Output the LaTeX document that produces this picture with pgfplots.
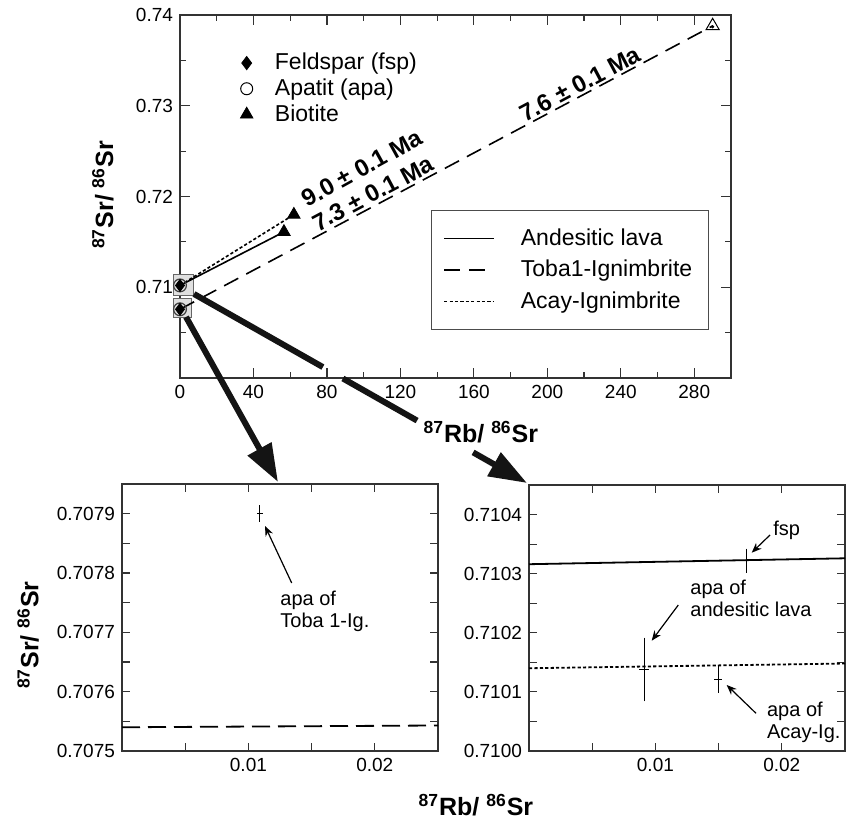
\documentclass[border=0pt]{standalone}
\usepackage{fontspec}
\setmainfont{Liberation Sans}
\usepackage{pgfplots}
\pgfplotsset{compat=1.18}
\usetikzlibrary{arrows.meta}

\pgfplotsset{
  every axis/.append style={
    scale only axis, clip=false,
    axis line style={line width=0.8pt, black!80},
    tick style={line width=0.6pt, black!80},
    tick align=inside,
    /pgf/number format/assume math mode=true,
    scaled ticks=false,
    tick label style={font=\fontsize{9.5}{11}\selectfont, black},
    label style={font=\fontsize{12.5}{14}\selectfont\bfseries},
  },
  errbar/.style={only marks, mark=-, mark size=0pt, black, line width=0.5pt},
}

\begin{document}
\begin{tikzpicture}
\useasboundingbox (0,0) rectangle (425pt,409pt);

% ---------------- top axis ----------------
\begin{axis}[
  at={(90pt,220pt)}, anchor=south west,
  width=275.5pt, height=181.5pt,
  xmin=0, xmax=300, ymin=0.70, ymax=0.74,
  xtick={0,40,80,120,160,200,240,280},
  minor xtick={20,60,100,140,180,220,260},
  ytick={0.71,0.72,0.73,0.74},
  minor ytick={0.705,0.715,0.725,0.735},
  yticklabel style={/pgf/number format/.cd, fixed, fixed zerofill, precision=2},
  major tick length=5pt, minor tick length=3pt,
  xlabel={\textsuperscript{87}Rb/ \textsuperscript{86}Sr},
  xlabel style={at={(axis description cs:0.546,-0.149)}, anchor=center},
  ylabel={\textsuperscript{87}Sr/ \textsuperscript{86}Sr},
  ylabel style={at={(axis description cs:-0.14,0.504)}, anchor=center},
  legend cell align=left,
  legend image code/.code={\draw[#1] (0pt,0pt) -- (25pt,0pt);},
  legend style={at={(axis description cs:0.455,0.463)}, anchor=north west,
    draw=black!70, line width=0.6pt, font=\fontsize{11.5}{13}\selectfont,
    inner xsep=6pt, inner ysep=7pt, row sep=2pt, column sep=11pt,
    nodes={inner xsep=2pt}},
]
% boxes around the low-ratio points
\draw[black!60, fill=black!12, line width=0.5pt] (axis cs:-3.3,0.70912) rectangle (axis cs:7.6,0.71143);
\draw[black!60, fill=black!12, line width=0.5pt] (axis cs:-3.3,0.70669) rectangle (axis cs:6.5,0.70879);

\addplot[black, line width=0.8pt] coordinates {(0,0.7102) (56.6,0.7161)};
\addlegendentry{Andesitic lava}
\addplot[black, line width=0.8pt, dash pattern=on 8pt off 4.5pt] coordinates {(0,0.70757) (290,0.7388)};
\addlegendentry{Toba1-Ignimbrite}
\addplot[black, line width=0.8pt, dash pattern=on 1.6pt off 1.1pt] coordinates {(0,0.7102) (62,0.7180)};
\addlegendentry{Acay-Ignimbrite}

% apatite (open circles)
\addplot[only marks, mark=o, mark size=3.2pt, black!75, mark options={line width=0.6pt}, forget plot]
  coordinates {(0,0.7102) (0,0.70757)};
% feldspar (filled diamonds)
\addplot[only marks, mark=diamond*, mark size=3pt, black, forget plot]
  coordinates {(0,0.7102) (0,0.70757)};
% biotite (filled triangles)
\addplot[only marks, mark=triangle*, mark size=3.6pt, black, forget plot]
  coordinates {(56.6,0.7161) (62,0.7180)};
% biotite of Toba1 (open triangle)
\addplot[only marks, mark=triangle, mark size=3.8pt, black, mark options={line width=0.5pt}, forget plot]
  coordinates {(290,0.7388)};
\addplot[only marks, mark=*, mark size=0.6pt, black, forget plot]
  coordinates {(290,0.7387)};
\end{axis}

% marker legend overlay
\begin{axis}[
  at={(90pt,220pt)}, anchor=south west,
  width=275.5pt, height=181.5pt, hide axis,
  xmin=0, xmax=1, ymin=0, ymax=1,
  legend cell align=left,
  legend style={draw=none, fill=none, at={(axis description cs:0.109,0.915)}, anchor=north west,
    inner xsep=0pt, column sep=9pt,
    font=\fontsize{11.5}{13}\selectfont, nodes={inner ysep=1.5pt, inner xsep=2pt}},
]
\addlegendimage{only marks, mark=diamond*, mark size=3.3pt, black}
\addlegendentry{Feldspar (fsp)}
\addlegendimage{only marks, mark=o, mark size=3pt, black, mark options={line width=0.5pt}}
\addlegendentry{Apatit (apa)}
\addlegendimage{only marks, mark=triangle*, mark size=3.6pt, black}
\addlegendentry{Biotite}
\end{axis}

% ---------------- lower left axis ----------------
\begin{axis}[
  at={(61pt,33.5pt)}, anchor=south west,
  width=158pt, height=133.5pt,
  xmin=0, xmax=0.025, ymin=0.7075, ymax=0.70795,
  xtick={0.01,0.02}, minor xtick={0.005,0.015},
  ytick={0.7075,0.7076,0.7077,0.7078,0.7079},
  minor ytick={0.70755,0.70765,0.70775,0.70785},
  xticklabel style={/pgf/number format/.cd, fixed, fixed zerofill, precision=2},
  yticklabel style={/pgf/number format/.cd, fixed, fixed zerofill, precision=4},
  major tick length=4pt, minor tick length=4pt,
  ylabel={\textsuperscript{87}Sr/ \textsuperscript{86}Sr},
  ylabel style={at={(axis description cs:-0.297,0.434)}, anchor=center},
  xlabel={\textsuperscript{87}Rb/ \textsuperscript{86}Sr},
  xlabel style={at={(axis description cs:1.12,-0.202)}, anchor=center},
]
\addplot[black, line width=0.9pt, dash pattern=on 9pt off 4pt] coordinates {(0,0.70754) (0.025,0.707543)};
\addplot[errbar, error bars/.cd, x dir=both, x explicit, error mark=none]
  coordinates {(0.0109,0.7079) +- (0.00024,0)};
\addplot[errbar, error bars/.cd, y dir=both, y explicit, error mark=-, error mark options={mark size=1.6pt, black}]
  coordinates {(0.0109,0.7079) +- (0,0.0000084)};
\end{axis}

% ---------------- lower right axis ----------------
\begin{axis}[
  at={(264.5pt,33.5pt)}, anchor=south west,
  width=158pt, height=133pt,
  xmin=0, xmax=0.025, ymin=0.7100, ymax=0.71045,
  xtick={0.01,0.02}, minor xtick={0.005,0.015},
  ytick={0.7100,0.7101,0.7102,0.7103,0.7104},
  minor ytick={0.71005,0.71015,0.71025,0.71035},
  xticklabel style={/pgf/number format/.cd, fixed, fixed zerofill, precision=2},
  yticklabel style={/pgf/number format/.cd, fixed, fixed zerofill, precision=4},
  major tick length=4pt, minor tick length=4pt,
]
\addplot[black, line width=0.9pt] coordinates {(0,0.710316) (0.025,0.710326)};
\addplot[black, line width=0.9pt, dash pattern=on 1.6pt off 1.1pt] coordinates {(0,0.71014) (0.025,0.710148)};
% x error bars
\addplot[errbar, error bars/.cd, x dir=both, x explicit, error mark=none]
  coordinates {(0.01723,0.710322) +- (0.00015,0)
               (0.00909,0.710138) +- (0.00037,0)
               (0.01496,0.7101215) +- (0.00029,0)};
% y error bars
\addplot[errbar, error bars/.cd, y dir=both, y explicit, error mark=-, error mark options={mark size=2.4pt, black}]
  coordinates {(0.01723,0.710322) +- (0,0.0000124)
               (0.00909,0.710138) +- (0,0.0000458)
               (0.01496,0.7101215) +- (0,0.000015)};
\end{axis}

% ---------------- annotations (pixel coordinates) ----------------
\begin{scope}[x=0.5pt, y=-0.5pt, shift={(0pt,409pt)}]
  % big arrows
  \draw[line width=3pt, black!92] (194,294) -- (322.9,367.1);
  \draw[line width=3pt, black!92] (342.9,378.5) -- (417.1,420.6);
  \draw[line width=3pt, black!92, -{Triangle[length=19pt,width=13pt]}] (473.1,452.4) -- (527,483);
  \draw[line width=3pt, black!92, -{Triangle[length=19pt,width=13pt]}] (186,317) -- (278,482);
  % age labels
  \node[rotate=29, font=\fontsize{12}{14}\selectfont\bfseries, inner sep=0pt] at (362,168) {9.0 ± 0.1 Ma};
  \node[rotate=28, font=\fontsize{12}{14}\selectfont\bfseries, inner sep=0pt] at (373,193.5) {7.3 ± 0.1 Ma};
  \node[rotate=28, font=\fontsize{12}{14}\selectfont\bfseries, inner sep=0pt] at (580,84) {7.6 ± 0.1 Ma};
  % small annotation arrows
  \draw[line width=0.6pt, -{Stealth[length=5pt,width=4pt]}] (291.7,583) -- (265,526);
  \draw[line width=0.6pt, -{Stealth[length=5pt,width=4pt]}] (770,535) -- (751.7,552.7);
  \draw[line width=0.6pt, -{Stealth[length=5pt,width=4pt]}] (678.3,605) -- (651.7,640.7);
  \draw[line width=0.6pt, -{Stealth[length=5pt,width=4pt]}] (756,713.3) -- (726.7,685);
  % annotation texts
  \node[anchor=north west, align=left, inner sep=0pt, font=\fontsize{10}{10.8}\selectfont] at (280,591) {apa of\\Toba 1-Ig.};
  \node[anchor=north west, align=left, inner sep=0pt, font=\fontsize{10}{10.8}\selectfont] at (773,521) {fsp};
  \node[anchor=north west, align=left, inner sep=0pt, font=\fontsize{10}{10.8}\selectfont] at (690,580) {apa of\\andesitic lava};
  \node[anchor=north west, align=left, inner sep=0pt, font=\fontsize{10}{10.8}\selectfont] at (766.7,701.7) {apa of\\Acay-Ig.};
\end{scope}
\end{tikzpicture}
\end{document}
